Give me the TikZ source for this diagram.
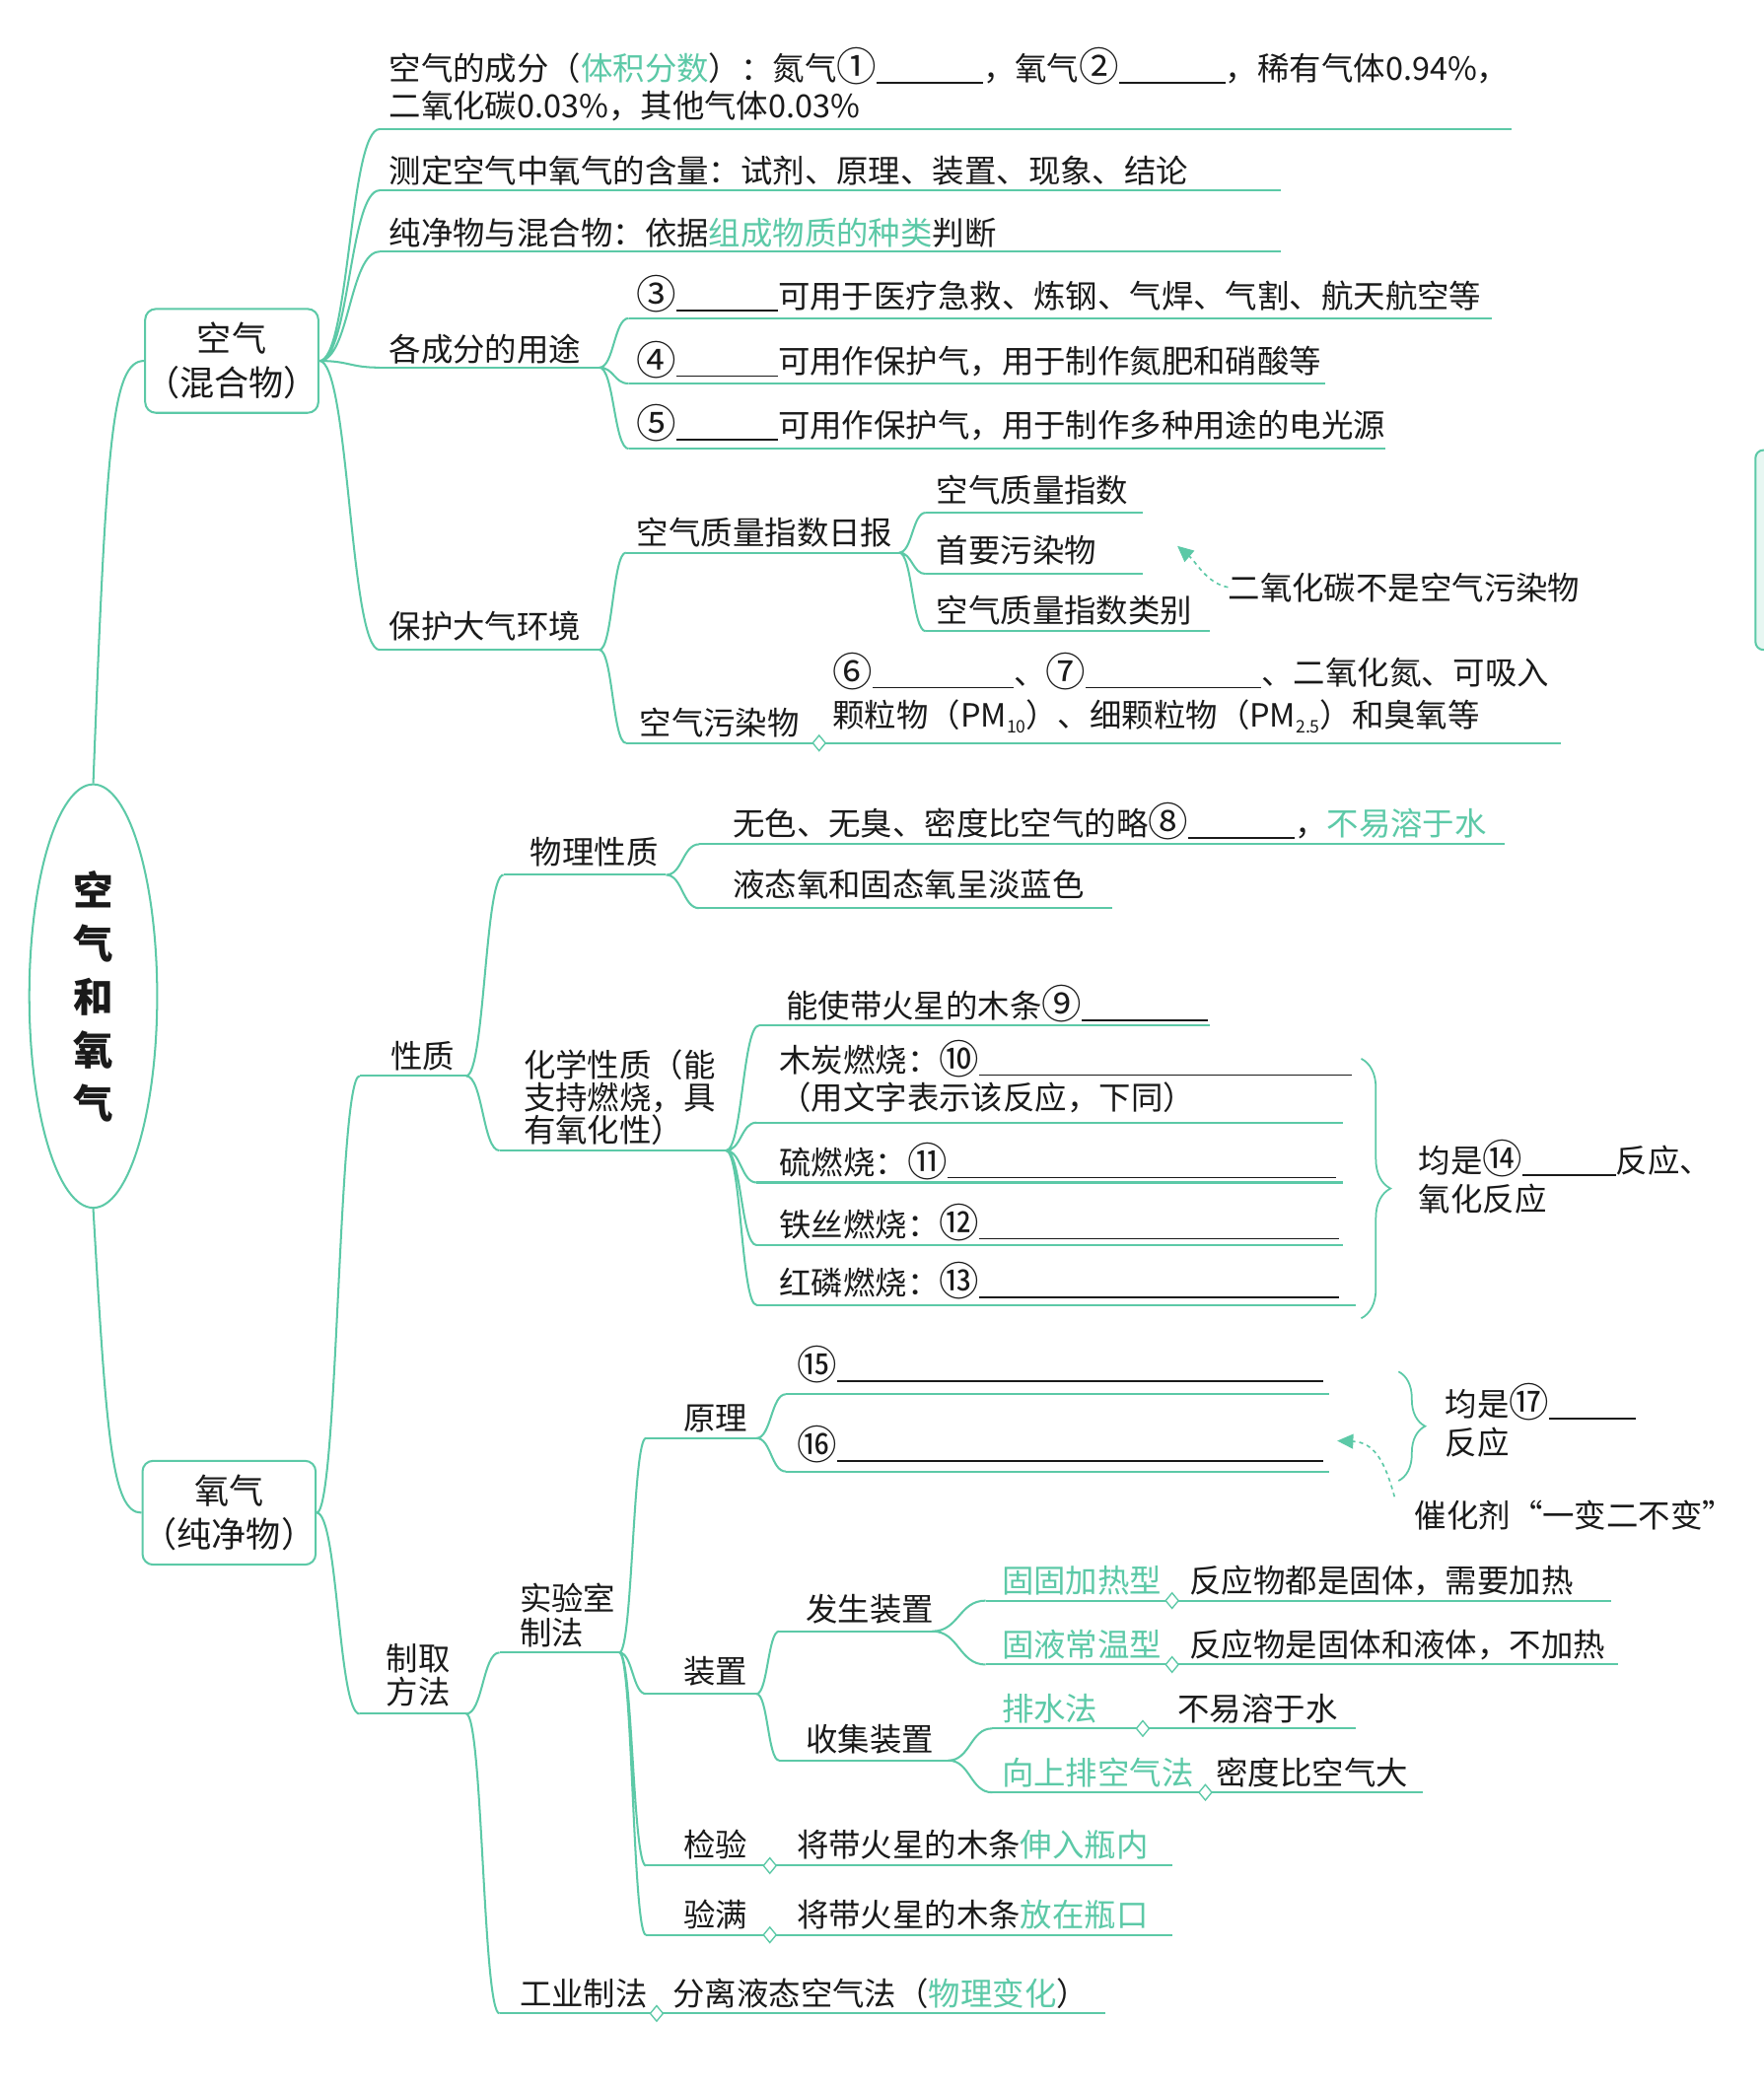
\documentclass[tikz,border=0pt]{standalone}
\usepackage{fontspec}
\setmainfont{Noto Sans CJK SC}
\usetikzlibrary{calc,shapes.geometric,arrows.meta,decorations.pathreplacing}
\definecolor{G}{HTML}{5CC9A7}
\definecolor{T}{HTML}{1A1A1A}
\newcommand\fz{\fontsize{24}{29}\selectfont}
\newcommand\gt[1]{\textcolor{G}{#1}}
\newcommand\blk[1]{\rule[-2.5pt]{#1pt}{1.2pt}}
\newcommand\sbs[1]{\raisebox{-4pt}{\fontsize{13}{13}\selectfont #1}}
\newcommand\cn[1]{{\fontsize{30}{30}\selectfont\raisebox{-1pt}{#1}}}
\begin{document}
\begin{tikzpicture}[x=1pt,y=-1pt,
  gl/.style={draw=G,line width=1.5pt},
  br/.style={to path={let \p1=(\tikztostart),\p2=(\tikztotarget) in .. controls ({(\x1+\x2)/2},\y1) and ({(\x1+\x2)/2},\y2) .. (\tikztotarget)}},
  tx/.style={anchor=west,inner sep=0pt,font=\fz,text=T},
  gx/.style={tx,text=G},
  dia/.style={diamond,draw=G,fill=white,line width=1pt,inner sep=0pt,minimum width=10pt,minimum height=12pt},
  box/.style={draw=G,line width=1.5pt,rounded corners=8pt,minimum width=128pt,minimum height=78pt,align=center,font=\fontsize{26}{33}\selectfont,text=T,inner sep=0pt},
  dsh/.style={draw=G,line width=1.2pt,dash pattern=on 3pt off 3pt,-{Triangle[length=12pt,width=11pt]}},
  brc/.style={draw=G,line width=1.3pt,decorate,decoration={brace,amplitude=22pt}},
]
\fill[white] (0,0) rectangle (1324,1568);
\useasboundingbox (0,0) rectangle (1324,1568);
\draw[G,line width=1.5pt,fill=G!15,rounded corners=6pt] (1318,338) rectangle (1345,488);

% ---------- root and main boxes ----------
\node[ellipse,draw=G,line width=1.5pt,minimum width=96pt,minimum height=318pt,inner sep=0pt,align=center,font=\fontsize{30}{40}\selectfont\bfseries,text=T] (root) at (70,748) {空\\气\\和\\氧\\气};
\node[box] (kq) at (174,271) {空气\\（混合物）};
\node[box] (oq) at (172,1136) {氧气\\（纯净物）};
\draw[gl] (root.north) .. controls (80,330) and (84,271) .. (kq.west);
\draw[gl] (root.south) .. controls (80,1080) and (84,1136) .. (oq.west);

% ---------- coordinates of branch lines ----------
\coordinate (a1s) at (285,97);   \coordinate (a1e) at (1135,97);
\coordinate (a2s) at (285,143);  \coordinate (a2e) at (962,143);
\coordinate (a3s) at (285,189);  \coordinate (a3e) at (962,189);
\coordinate (a4s) at (285,276);  \coordinate (a4e) at (450,276);
\coordinate (b1s) at (472,239);  \coordinate (b1e) at (1120,239);
\coordinate (b2s) at (472,288);  \coordinate (b2e) at (995,288);
\coordinate (b3s) at (472,337);  \coordinate (b3e) at (1040,337);
\coordinate (a5s) at (285,488);  \coordinate (a5e) at (450,488);
\coordinate (c1s) at (470,415);  \coordinate (c1e) at (675,415);
\coordinate (d1s) at (695,385);  \coordinate (d1e) at (858,385);
\coordinate (d2s) at (695,431);  \coordinate (d2e) at (858,431);
\coordinate (d3s) at (695,474);  \coordinate (d3e) at (908,474);
\coordinate (c2s) at (470,558);  \coordinate (c2e) at (1172,558);

\coordinate (xzs) at (270,808);  \coordinate (xze) at (350,808);
\coordinate (wls) at (378,657);  \coordinate (wle) at (500,657);
\coordinate (w1s) at (525,634);  \coordinate (w1e) at (1130,634);
\coordinate (w2s) at (525,682);  \coordinate (w2e) at (835,682);
\coordinate (hxs) at (375,864);  \coordinate (hxe) at (545,864);
\coordinate (h1s) at (570,770);  \coordinate (h1e) at (908,770);
\coordinate (h2s) at (568,843);  \coordinate (h2e) at (1008,843);
\coordinate (h3s) at (568,888);  \coordinate (h3e) at (1008,888);
\coordinate (h4s) at (568,935);  \coordinate (h4e) at (1008,935);
\coordinate (h5s) at (568,980);  \coordinate (h5e) at (1018,980);

\coordinate (zqs) at (270,1287); \coordinate (zqe) at (350,1287);
\coordinate (sys) at (375,1241); \coordinate (sye) at (465,1241);
\coordinate (yls) at (485,1080); \coordinate (yle) at (568,1080);
\coordinate (y1s) at (590,1047); \coordinate (y1e) at (998,1047);
\coordinate (y2s) at (590,1105); \coordinate (y2e) at (998,1105);
\coordinate (zzs) at (485,1272); \coordinate (zze) at (568,1272);
\coordinate (fss) at (585,1225); \coordinate (fse) at (700,1225);
\coordinate (f1s) at (740,1202); \coordinate (f1e) at (1210,1202);
\coordinate (f2s) at (740,1250); \coordinate (f2e) at (1215,1250);
\coordinate (sjs) at (585,1322); \coordinate (sje) at (712,1322);
\coordinate (s1s) at (745,1298); \coordinate (s1e) at (1018,1298);
\coordinate (s2s) at (745,1346); \coordinate (s2e) at (1068,1346);
\coordinate (jys) at (485,1401); \coordinate (jye) at (880,1401);
\coordinate (yms) at (485,1453); \coordinate (yme) at (880,1453);
\coordinate (gys) at (375,1512); \coordinate (gye) at (830,1512);

% ---------- underlines ----------
\foreach \n in {a1,a2,a3,a4,b1,b2,b3,a5,c1,d1,d2,d3,c2,xz,wl,w1,w2,hx,h1,h2,h3,h4,h5,zq,sy,yl,y1,y2,zz,fs,f1,f2,sj,s1,s2,jy,ym,gy}
  \draw[gl] (\n s) -- (\n e);

% ---------- connectors ----------
\draw[gl] (kq.east) to[br] (a1s) (kq.east) to[br] (a2s) (kq.east) to[br] (a3s)
          (kq.east) to[br] (a4s) (kq.east) to[br] (a5s);
\draw[gl] (a4e) to[br] (b1s) (a4e) to[br] (b2s) (a4e) to[br] (b3s);
\draw[gl] (a5e) to[br] (c1s) (a5e) to[br] (c2s);
\draw[gl] (c1e) to[br] (d1s) (c1e) to[br] (d2s) (c1e) to[br] (d3s);
\draw[gl] (oq.east) to[br] (xzs) (oq.east) to[br] (zqs);
\draw[gl] (xze) to[br] (wls) (xze) to[br] (hxs);
\draw[gl] (wle) to[br] (w1s) (wle) to[br] (w2s);
\draw[gl] (hxe) to[br] (h1s) (hxe) to[br] (h2s) (hxe) to[br] (h3s) (hxe) to[br] (h4s) (hxe) to[br] (h5s);
\draw[gl] (zqe) to[br] (sys) (zqe) to[br] (gys);
\draw[gl] (sye) to[br] (yls) (sye) to[br] (zzs) (sye) to[br] (jys) (sye) to[br] (yms);
\draw[gl] (yle) to[br] (y1s) (yle) to[br] (y2s);
\draw[gl] (zze) to[br] (fss) (zze) to[br] (sjs);
\draw[gl] (fse) to[br] (f1s) (fse) to[br] (f2s);
\draw[gl] (sje) to[br] (s1s) (sje) to[br] (s2s);

% ---------- diamonds ----------
\node[dia] (m1) at (615,558) {};
\node[dia] (m2) at (880,1202) {};
\node[dia] (m3) at (880,1250) {};
\node[dia] (m4) at (858,1298) {};
\node[dia] (m5) at (905,1346) {};
\node[dia] (m6) at (578,1401) {};
\node[dia] (m7) at (578,1453) {};
\node[dia] (m8) at (493,1512) {};

% ---------- texts: air ----------
\node[tx] (t1a) at (292,50) {空气的成分（\gt{体积分数}）：氮气\cn{①}\blk{80}，氧气\cn{②}\blk{80}，稀有气体0.94\%，};
\node[tx] (t1b) at (292,80) {二氧化碳0.03\%，其他气体0.03\%};
\node[tx] (t2) at (292,128) {测定空气中氧气的含量：试剂、原理、装置、现象、结论};
\node[tx] (t3) at (292,175) {纯净物与混合物：依据\gt{组成物质的种类}判断};
\node[tx] (t4) at (292,262) {各成分的用途};
\node[tx] (tb1) at (478,221) {\cn{③}\blk{76}可用于医疗急救、炼钢、气焊、气割、航天航空等};
\node[tx] (tb2) at (478,270) {\cn{④}\blk{76}可用作保护气，用于制作氮肥和硝酸等};
\node[tx] (tb3) at (478,318) {\cn{⑤}\blk{76}可用作保护气，用于制作多种用途的电光源};
\node[tx] (t5) at (292,470) {保护大气环境};
\node[tx] (tc1) at (478,400) {空气质量指数日报};
\node[tx] (td1) at (703,368) {空气质量指数};
\node[tx] (td2) at (703,413) {首要污染物};
\node[tx] (td3) at (703,458) {空气质量指数类别};
\node[tx] (n1) at (922,441) {二氧化碳不是空气污染物};
\coordinate (ar1) at (884,410);
\draw[dsh] (n1.west) .. controls (906,438) and (898,422) .. (ar1);
\node[tx] (tc2) at (480,543) {空气污染物};
\node[tx] (te1) at (625,504) {\cn{⑥}\blk{106}、\cn{⑦}\blk{132}、二氧化氮、可吸入};
\node[tx] (te2) at (625,538) {颗粒物（PM\sbs{10}）、细颗粒物（PM\sbs{2.5}）和臭氧等};

% ---------- texts: properties ----------
\node[tx] (txz) at (293,793) {性质};
\node[tx] (twl) at (398,640) {物理性质};
\node[tx] (tw1) at (550,617) {无色、无臭、密度比空气的略\cn{⑧}\blk{80}，\gt{不易溶于水}};
\node[tx] (tw2) at (550,664) {液态氧和固态氧呈淡蓝色};
\node[tx,align=left,font=\fontsize{24}{24.5}\selectfont] (thx) at (393,824) {化学性质（能\\支持燃烧，具\\有氧化性）};
\node[tx] (th1) at (590,754) {能使带火星的木条\cn{⑨}\blk{95}};
\node[tx] (th2a) at (585,795) {木炭燃烧：\cn{⑩}\blk{280}};
\node[tx] (th2b) at (585,824) {（用文字表示该反应，下同）};
\node[tx] (th3) at (585,872) {硫燃烧：\cn{⑪}\blk{292}};
\node[tx] (th4) at (585,918) {铁丝燃烧：\cn{⑫}\blk{270}};
\node[tx] (th5) at (585,962) {红磷燃烧：\cn{⑬}\blk{270}};
\coordinate (bra) at (1022,795); \coordinate (brb) at (1022,990);
\draw[brc] (bra) -- (brb);
\node[tx] (n14a) at (1065,870) {均是\cn{⑭}\blk{70}反应、};
\node[tx] (n14b) at (1065,900) {氧化反应};

% ---------- texts: preparation ----------
\node[tx,align=left,font=\fontsize{24}{25}\selectfont] (tzq) at (290,1258) {制取\\方法};
\node[tx,align=left,font=\fontsize{24}{26}\selectfont] (tsy) at (390,1213) {实验室\\制法};
\node[tx] (tyl) at (513,1065) {原理};
\node[tx] (ty1) at (598,1025) {\cn{⑮}\blk{365}};
\node[tx] (ty2) at (598,1085) {\cn{⑯}\blk{365}};
\coordinate (brc) at (1050,1030); \coordinate (brd) at (1050,1112);
\draw[brc,decoration={brace,amplitude=20pt}] (brc) -- (brd);
\node[tx] (n17a) at (1085,1053) {均是\cn{⑰}\blk{65}};
\node[tx] (n17b) at (1085,1083) {反应};
\node[tx] (n2) at (1062,1138) {催化剂“一变二不变”};
\coordinate (ar2s) at (1047,1124); \coordinate (ar2) at (1004,1082);
\draw[dsh] (ar2s) .. controls (1040,1098) and (1032,1083) .. (ar2);
\node[tx] (tzz) at (513,1255) {装置};
\node[tx] (tfs) at (605,1208) {发生装置};
\node[gx] (tf1) at (752,1187) {固固加热型};
\node[tx] (tf1b) at (893,1187) {反应物都是固体，需要加热};
\node[gx] (tf2) at (752,1235) {固液常温型};
\node[tx] (tf2b) at (893,1235) {反应物是固体和液体，不加热};
\node[tx] (tsj) at (605,1306) {收集装置};
\node[gx] (ts1) at (752,1283) {排水法};
\node[tx] (ts1b) at (884,1283) {不易溶于水};
\node[gx] (ts2) at (752,1331) {向上排空气法};
\node[tx] (ts2b) at (913,1331) {密度比空气大};
\node[tx] (tjy) at (513,1385) {检验};
\node[tx] (tjyb) at (598,1385) {将带火星的木条\gt{伸入瓶内}};
\node[tx] (tym) at (513,1438) {验满};
\node[tx] (tymb) at (598,1438) {将带火星的木条\gt{放在瓶口}};
\node[tx] (tgy) at (390,1497) {工业制法};
\node[tx] (tgyb) at (505,1497) {分离液态空气法（\gt{物理变化}）};
\end{tikzpicture}
\end{document}
